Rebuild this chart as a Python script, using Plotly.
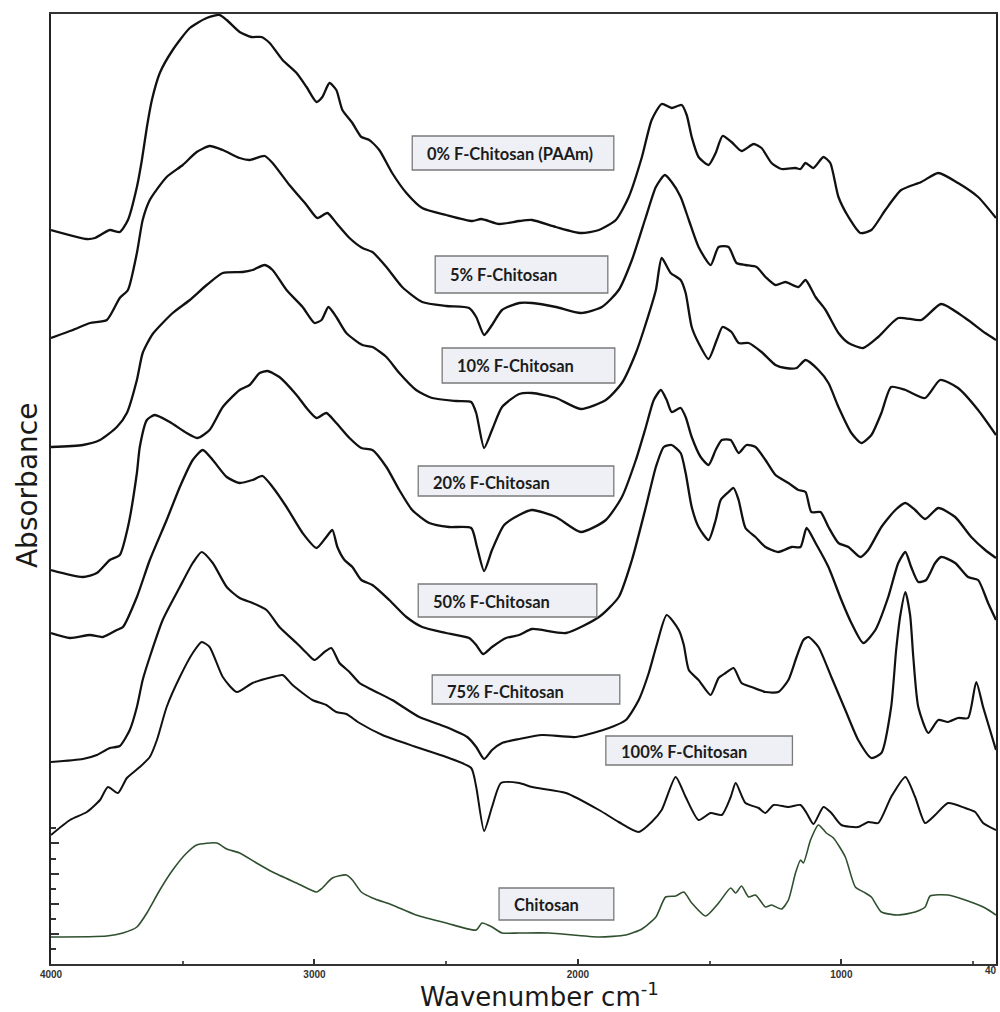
import plotly.graph_objects as go

# ---------------- data (wavenumber cm-1, absorbance a.u., stacked) ----------------
wn_0 = [4000, 3865, 3833, 3777, 3739, 3708, 3674, 3655, 3636, 3617, 3587, 3538, 3473, 3409, 3360, 3333,
        3284, 3239, 3201, 3170, 3121, 3068, 3030, 2992, 2970, 2943, 2917, 2894, 2856, 2822, 2792, 2754,
        2705, 2651, 2591, 2500, 2401, 2367, 2299, 2223, 2174, 2083, 1989, 1920, 1856, 1807, 1757, 1720,
        1682, 1644, 1606, 1587, 1568, 1542, 1504, 1477, 1451, 1417, 1379, 1333, 1303, 1265, 1227, 1174,
        1155, 1136, 1106, 1068, 1042, 1011, 973, 928, 886, 833, 773, 697, 632, 557, 481, 413]
abs_0 = [7.34, 7.25, 7.26, 7.34, 7.32, 7.44, 7.77, 8.04, 8.37, 8.64, 8.91, 9.14, 9.36, 9.46, 9.49, 9.44,
         9.32, 9.27, 9.27, 9.21, 9.04, 8.91, 8.77, 8.62, 8.67, 8.81, 8.74, 8.54, 8.41, 8.27, 8.24, 8.14,
         7.91, 7.71, 7.56, 7.49, 7.43, 7.45, 7.40, 7.43, 7.44, 7.37, 7.31, 7.34, 7.44, 7.67, 8.07, 8.44,
         8.60, 8.56, 8.59, 8.49, 8.27, 8.07, 7.99, 8.11, 8.28, 8.22, 8.13, 8.20, 8.16, 8.01, 7.95, 7.96,
         7.95, 8.01, 7.96, 8.07, 8.01, 7.67, 7.47, 7.31, 7.34, 7.54, 7.74, 7.82, 7.91, 7.81, 7.67, 7.46]

wn_5 = [4000, 3917, 3852, 3788, 3739, 3708, 3674, 3652, 3625, 3561, 3500, 3447, 3398, 3348, 3284, 3246,
        3189, 3159, 3095, 3030, 2989, 2951, 2917, 2867, 2818, 2780, 2727, 2667, 2591, 2500, 2413, 2386,
        2356, 2326, 2288, 2223, 2174, 2083, 1989, 1909, 1845, 1795, 1742, 1704, 1670, 1644, 1610, 1579,
        1542, 1496, 1466, 1428, 1398, 1364, 1322, 1288, 1250, 1212, 1163, 1136, 1098, 1060, 1011, 973,
        917, 860, 784, 697, 621, 530, 454, 413]
abs_5 = [6.26, 6.34, 6.41, 6.44, 6.66, 6.74, 7.11, 7.44, 7.64, 7.87, 7.99, 8.12, 8.18, 8.14, 8.06, 8.04,
         8.08, 8.01, 7.79, 7.59, 7.46, 7.51, 7.41, 7.26, 7.16, 7.12, 6.97, 6.77, 6.62, 6.58, 6.56, 6.47,
         6.29, 6.39, 6.54, 6.61, 6.61, 6.57, 6.51, 6.57, 6.74, 7.04, 7.47, 7.77, 7.89, 7.82, 7.67, 7.44,
         7.17, 6.99, 7.17, 7.17, 7.01, 6.99, 6.97, 6.87, 6.79, 6.82, 6.77, 6.84, 6.67, 6.54, 6.31, 6.21,
         6.16, 6.27, 6.46, 6.44, 6.60, 6.46, 6.31, 6.24]

wn_10 = [4000, 3879, 3814, 3750, 3712, 3674, 3652, 3614, 3538, 3473, 3409, 3348, 3273, 3235, 3189, 3159,
         3106, 3045, 3000, 2973, 2947, 2917, 2879, 2818, 2780, 2727, 2678, 2614, 2553, 2462, 2405, 2386,
         2356, 2326, 2288, 2223, 2174, 2083, 1989, 1894, 1833, 1780, 1750, 1704, 1682, 1648, 1610, 1591,
         1568, 1542, 1504, 1473, 1451, 1417, 1390, 1352, 1303, 1250, 1212, 1170, 1136, 1087, 1049, 1011,
         962, 924, 886, 848, 811, 757, 682, 625, 557, 481, 413]
abs_10 = [5.17, 5.19, 5.24, 5.37, 5.51, 5.84, 6.11, 6.30, 6.51, 6.64, 6.79, 6.91, 6.92, 6.94, 6.99, 6.94,
          6.74, 6.57, 6.41, 6.44, 6.57, 6.47, 6.31, 6.19, 6.17, 6.07, 5.91, 5.74, 5.66, 5.63, 5.62, 5.51,
          5.16, 5.34, 5.57, 5.70, 5.71, 5.66, 5.55, 5.64, 5.81, 6.11, 6.34, 6.74, 7.06, 6.91, 6.84, 6.71,
          6.37, 6.21, 6.05, 6.24, 6.37, 6.32, 6.21, 6.21, 6.12, 5.99, 5.96, 5.96, 6.04, 5.94, 5.81, 5.57,
          5.31, 5.21, 5.29, 5.51, 5.77, 5.74, 5.66, 5.84, 5.76, 5.54, 5.29]

wn_20 = [4000, 3879, 3826, 3777, 3739, 3708, 3674, 3663, 3636, 3606, 3549, 3485, 3443, 3398, 3348, 3284,
         3246, 3208, 3178, 3133, 3068, 3030, 2992, 2955, 2917, 2867, 2822, 2780, 2727, 2678, 2629, 2564,
         2489, 2405, 2383, 2356, 2326, 2280, 2223, 2174, 2083, 1989, 1894, 1833, 1780, 1742, 1712, 1685,
         1663, 1644, 1610, 1591, 1568, 1534, 1504, 1477, 1454, 1420, 1390, 1360, 1326, 1288, 1250, 1201,
         1163, 1136, 1114, 1079, 1049, 1011, 973, 928, 898, 848, 795, 757, 720, 682, 632, 568, 507, 454, 413]
abs_20 = [3.94, 3.87, 3.91, 4.04, 4.09, 4.37, 4.91, 5.17, 5.44, 5.49, 5.42, 5.31, 5.26, 5.34, 5.57, 5.74,
          5.79, 5.91, 5.93, 5.87, 5.69, 5.56, 5.46, 5.51, 5.41, 5.26, 5.16, 5.14, 4.97, 4.74, 4.54, 4.41,
          4.37, 4.36, 4.17, 3.93, 4.14, 4.39, 4.49, 4.54, 4.47, 4.32, 4.44, 4.67, 5.04, 5.37, 5.64, 5.74,
          5.64, 5.52, 5.56, 5.47, 5.27, 5.07, 4.99, 5.14, 5.24, 5.24, 5.11, 5.19, 5.17, 5.04, 4.89, 4.81,
          4.74, 4.72, 4.52, 4.52, 4.37, 4.21, 4.17, 4.07, 4.14, 4.37, 4.54, 4.61, 4.54, 4.45, 4.56, 4.47,
          4.27, 4.14, 4.06]

wn_50 = [4000, 3928, 3852, 3803, 3750, 3727, 3674, 3625, 3561, 3511, 3462, 3424, 3386, 3333, 3284, 3235,
         3197, 3159, 3106, 3045, 2992, 2955, 2932, 2913, 2886, 2856, 2822, 2780, 2716, 2651, 2591, 2500,
         2413, 2386, 2360, 2326, 2273, 2223, 2174, 2045, 1920, 1845, 1795, 1742, 1704, 1674, 1644, 1610,
         1591, 1568, 1542, 1504, 1477, 1458, 1428, 1409, 1390, 1364, 1326, 1288, 1239, 1189, 1155, 1132,
         1098, 1049, 1000, 962, 917, 871, 822, 784, 757, 735, 708, 678, 644, 621, 568, 519, 481, 443, 413]
abs_50 = [3.31, 3.26, 3.29, 3.27, 3.34, 3.37, 3.67, 4.04, 4.44, 4.77, 5.04, 5.14, 5.04, 4.87, 4.81, 4.84,
          4.88, 4.77, 4.57, 4.31, 4.16, 4.27, 4.34, 4.17, 4.04, 3.97, 3.84, 3.79, 3.64, 3.47, 3.37, 3.31,
          3.26, 3.19, 3.10, 3.17, 3.26, 3.29, 3.35, 3.31, 3.47, 3.67, 4.04, 4.57, 4.97, 5.17, 5.19, 5.11,
          4.91, 4.57, 4.37, 4.24, 4.44, 4.64, 4.72, 4.76, 4.64, 4.36, 4.27, 4.17, 4.12, 4.17, 4.17, 4.36,
          4.21, 3.97, 3.64, 3.41, 3.21, 3.34, 3.67, 4.01, 4.12, 3.97, 3.82, 3.84, 4.01, 4.07, 4.01, 3.87,
          3.84, 3.61, 3.44]

wn_75 = [4000, 3879, 3826, 3777, 3739, 3701, 3674, 3652, 3625, 3576, 3511, 3462, 3428, 3386, 3333, 3284,
         3235, 3182, 3133, 3068, 3030, 3000, 2962, 2936, 2905, 2867, 2829, 2780, 2705, 2602, 2500, 2420,
         2386, 2356, 2326, 2288, 2223, 2136, 2007, 1882, 1818, 1769, 1731, 1701, 1663, 1617, 1598, 1579,
         1542, 1496, 1466, 1439, 1409, 1379, 1341, 1288, 1239, 1201, 1170, 1144, 1125, 1087, 1038, 985,
         936, 886, 848, 811, 792, 776, 757, 739, 727, 708, 670, 632, 595, 557, 519, 488, 462, 413]
abs_75 = [2.02, 2.05, 2.09, 2.16, 2.18, 2.34, 2.57, 2.84, 3.07, 3.44, 3.77, 4.01, 4.12, 4.01, 3.77, 3.66,
          3.61, 3.54, 3.37, 3.21, 3.11, 3.04, 3.12, 3.16, 3.01, 2.92, 2.81, 2.74, 2.64, 2.47, 2.37, 2.27,
          2.17, 2.05, 2.14, 2.21, 2.25, 2.29, 2.27, 2.36, 2.44, 2.64, 2.91, 3.19, 3.49, 3.34, 3.19, 2.94,
          2.84, 2.69, 2.86, 2.91, 2.96, 2.81, 2.77, 2.72, 2.72, 2.84, 3.07, 3.24, 3.27, 3.17, 2.87, 2.54,
          2.24, 2.06, 2.11, 2.57, 3.14, 3.49, 3.72, 3.49, 3.07, 2.57, 2.31, 2.44, 2.42, 2.46, 2.46, 2.82,
          2.57, 2.14]

wn_100 = [4000, 3928, 3864, 3814, 3784, 3746, 3712, 3663, 3625, 3598, 3561, 3511, 3462, 3428, 3398, 3348,
          3295, 3235, 3159, 3121, 3083, 3008, 2955, 2917, 2879, 2829, 2742, 2614, 2500, 2405, 2386, 2356,
          2326, 2292, 2223, 2174, 2045, 1920, 1845, 1769, 1720, 1682, 1629, 1591, 1542, 1496, 1454, 1420,
          1401, 1364, 1314, 1288, 1257, 1201, 1155, 1132, 1106, 1068, 1038, 1000, 936, 898, 860, 811,
          757, 720, 682, 644, 595, 530, 492, 462, 413]
abs_100 = [1.29, 1.44, 1.52, 1.64, 1.77, 1.71, 1.86, 1.97, 2.07, 2.24, 2.57, 2.87, 3.11, 3.22, 3.17, 2.87,
           2.72, 2.81, 2.87, 2.89, 2.79, 2.64, 2.59, 2.52, 2.50, 2.41, 2.29, 2.17, 2.07, 1.96, 1.77, 1.33,
           1.57, 1.81, 1.81, 1.77, 1.71, 1.54, 1.42, 1.32, 1.42, 1.54, 1.87, 1.67, 1.44, 1.51, 1.49, 1.67,
           1.81, 1.61, 1.56, 1.51, 1.59, 1.57, 1.59, 1.51, 1.40, 1.57, 1.51, 1.39, 1.37, 1.42, 1.41, 1.67,
           1.87, 1.67, 1.41, 1.49, 1.61, 1.56, 1.52, 1.41, 1.34]

wn_ch = [4000, 3788, 3727, 3674, 3636, 3587, 3538, 3485, 3447, 3371, 3333, 3284, 3220, 3159, 3068, 2992,
         2970, 2932, 2879, 2856, 2822, 2780, 2705, 2614, 2500, 2386, 2364, 2326, 2288, 2223, 2110, 1920,
         1818, 1757, 1704, 1667, 1629, 1598, 1568, 1515, 1466, 1420, 1401, 1379, 1352, 1326, 1288, 1265,
         1227, 1201, 1174, 1155, 1144, 1117, 1087, 1057, 1030, 985, 947, 909, 886, 848, 784, 720, 682,
         663, 595, 530, 454, 413]
abs_ch = [0.27, 0.28, 0.31, 0.37, 0.51, 0.74, 0.94, 1.11, 1.19, 1.21, 1.15, 1.11, 1.01, 0.92, 0.81, 0.72,
          0.76, 0.86, 0.89, 0.84, 0.72, 0.66, 0.59, 0.49, 0.41, 0.34, 0.41, 0.37, 0.31, 0.31, 0.31, 0.27,
          0.29, 0.35, 0.47, 0.67, 0.68, 0.72, 0.61, 0.48, 0.61, 0.76, 0.71, 0.78, 0.67, 0.69, 0.57, 0.59,
          0.55, 0.64, 0.91, 1.04, 1.01, 1.24, 1.39, 1.31, 1.26, 1.07, 0.77, 0.71, 0.67, 0.52, 0.49, 0.52,
          0.57, 0.68, 0.69, 0.64, 0.56, 0.49]

series_names = ["0% F-Chitosan (PAAm)", "5% F-Chitosan", "10% F-Chitosan", "20% F-Chitosan",
                "50% F-Chitosan", "75% F-Chitosan", "100% F-Chitosan", "Chitosan"]
series_x = [wn_0, wn_5, wn_10, wn_20, wn_50, wn_75, wn_100, wn_ch]
series_y = [abs_0, abs_5, abs_10, abs_20, abs_50, abs_75, abs_100, abs_ch]

x_tick_vals = [4000, 3000, 2000, 1000]
x_tick_text = ["4000", "3000", "2000", "1000"]
x_minor_vals = [3500, 2500, 1500, 500]

# ---------------- layout helpers (pixel -> paper) ----------------
L, R, T, B = 51, 998, 14, 964
W, H = 1000, 1012


def px(xp):
    return (xp - L) / (R - L)


def py(yp):
    return (B - yp) / (B - T)


line_colors = ["#111111"] * 7 + ["#2f4f2f"]
line_widths = [2.3, 2.3, 2.3, 2.3, 2.3, 2.2, 2.0, 1.6]

fig = go.Figure()
for name, xs, ys, c, w in zip(series_names, series_x, series_y, line_colors, line_widths):
    fig.add_trace(go.Scatter(x=xs, y=ys, mode="lines", name=name,
                             line=dict(color=c, width=w, shape="spline", smoothing=0.6),
                             showlegend=False, hoverinfo="skip"))

# label boxes: (text, left, top, right, bottom, text_center_y) in pixels
boxes = [
    ("0% F-Chitosan (PAAm)", 413, 136, 615, 170, 154),
    ("5% F-Chitosan", 436, 256, 609, 293, 275),
    ("10% F-Chitosan", 443, 348, 616, 383, 366),
    ("20% F-Chitosan", 419, 466, 615, 496, 483),
    ("50% F-Chitosan", 419, 584, 598, 617, 602),
    ("75% F-Chitosan", 433, 675, 621, 704, 692),
    ("100% F-Chitosan", 607, 736, 794, 765, 752),
    ("Chitosan", 500, 888, 615, 920, 905),
]
shapes = []
annotations = []
for text, x0, y0, x1, y1, yc in boxes:
    shapes.append(dict(type="rect", xref="paper", yref="paper",
                       x0=px(x0), x1=px(x1), y0=py(y1), y1=py(y0),
                       fillcolor="#eef0f6", line=dict(color="#7a7a7a", width=1.3), layer="above"))
    annotations.append(dict(text=text, xref="paper", yref="paper", x=px(x0 + 13), y=py(yc),
                            xanchor="left", yanchor="middle", showarrow=False,
                            font=dict(family="Lato", size=16.5, color="#1c1c1c", weight="bold")))

annotations.append(dict(text="Wavenumber cm<sup>-1</sup>", xref="paper", yref="paper",
                        x=px(541), y=py(995), xanchor="center", yanchor="middle", showarrow=False,
                        font=dict(family="DejaVu Sans", size=26, color="#1a1a1a")))
annotations.append(dict(text="Absorbance", xref="paper", yref="paper", textangle=-90,
                        x=px(28), y=py(486), xanchor="center", yanchor="middle", showarrow=False,
                        font=dict(family="DejaVu Sans", size=28, color="#1a1a1a")))
annotations.append(dict(text="40", xref="paper", yref="paper", x=px(1001), y=py(971),
                        xanchor="right", yanchor="middle", showarrow=False,
                        font=dict(family="Liberation Sans", size=10, color="#333333", weight="bold")))

fig.update_layout(
    width=W, height=H,
    margin=dict(l=L, r=W - R, t=T, b=H - B, pad=0),
    paper_bgcolor="white", plot_bgcolor="white",
    shapes=shapes, annotations=annotations,
    xaxis=dict(range=[4000, 413], autorange=False, showgrid=False, zeroline=False,
               showline=True, linecolor="#333333", linewidth=2, mirror=True,
               tickmode="array", tickvals=x_tick_vals, ticktext=x_tick_text,
               ticks="inside", ticklen=5, tickwidth=2, tickcolor="#333333",
               minor=dict(tickmode="array", tickvals=x_minor_vals, ticks="inside", ticklen=3,
                          tickwidth=2, tickcolor="#555555"),
               tickfont=dict(family="Liberation Sans", size=10, color="#333333", weight="bold")),
    yaxis=dict(range=[0, 9.5], autorange=False, showgrid=False, zeroline=False,
               showline=True, linecolor="#222222", linewidth=2, mirror=True,
               showticklabels=False,
               tickmode="array", tickvals=[0.30, 0.60, 0.90, 1.21],
               ticks="inside", ticklen=8, tickwidth=1.5, tickcolor="#333333",
               minor=dict(tickmode="array", tickvals=[0.15, 0.45, 0.75, 1.05, 1.36],
                          ticks="inside", ticklen=5, tickwidth=1.5, tickcolor="#333333")),
)

fig.write_html("out.html", config={"displayModeBar": False},
               post_script="document.body.style.margin='0';document.body.style.padding='0';"
                           "document.documentElement.style.overflow='hidden';")
